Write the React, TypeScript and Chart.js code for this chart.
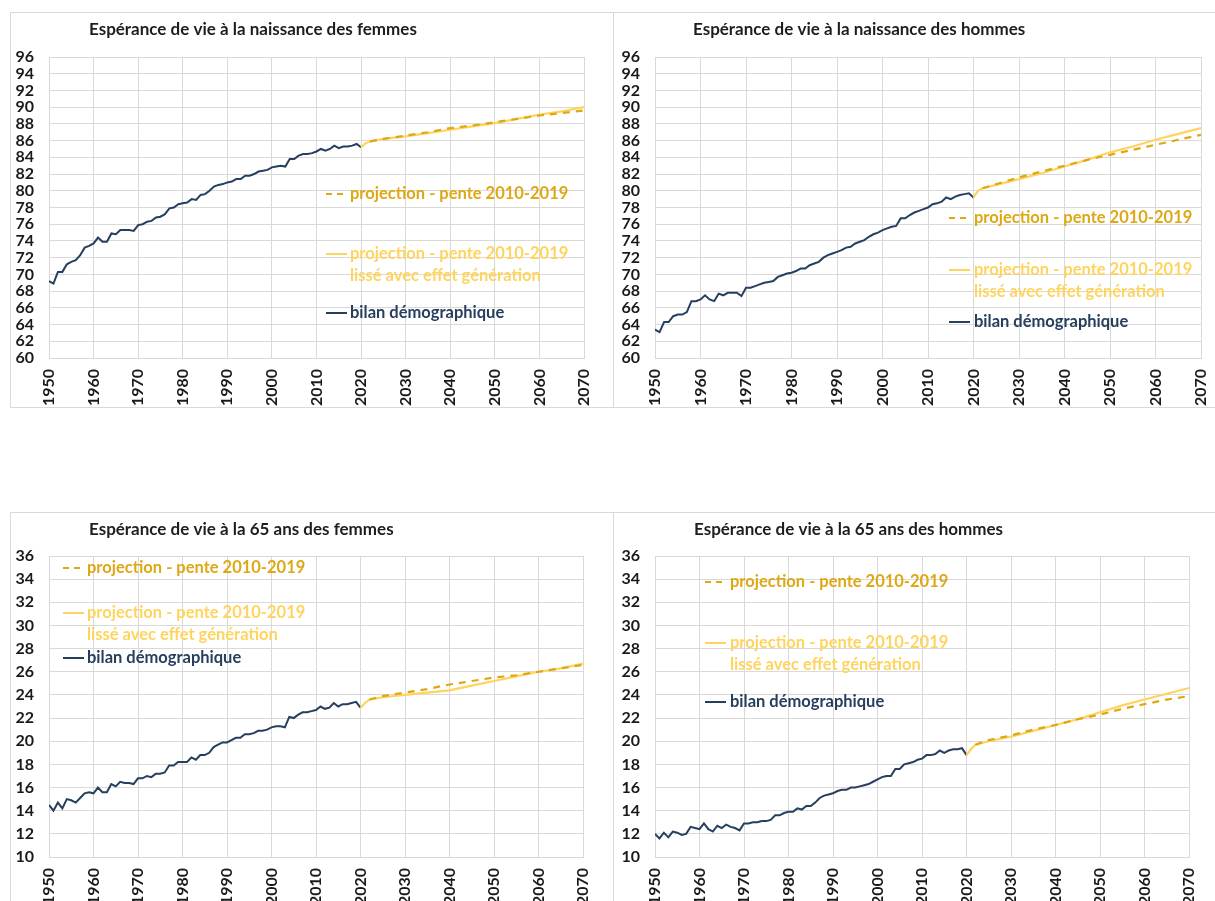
import React, { useEffect, useRef } from 'react';
import { Chart, registerables } from 'chart.js';
Chart.register(...registerables);

const years = [
  1950, 1951, 1952, 1953, 1954, 1955, 1956, 1957, 1958, 1959,
  1960, 1961, 1962, 1963, 1964, 1965, 1966, 1967, 1968, 1969,
  1970, 1971, 1972, 1973, 1974, 1975, 1976, 1977, 1978, 1979,
  1980, 1981, 1982, 1983, 1984, 1985, 1986, 1987, 1988, 1989,
  1990, 1991, 1992, 1993, 1994, 1995, 1996, 1997, 1998, 1999,
  2000, 2001, 2002, 2003, 2004, 2005, 2006, 2007, 2008, 2009,
  2010, 2011, 2012, 2013, 2014, 2015, 2016, 2017, 2018, 2019,
  2020,
];

const femmesNaissance = [
  69.2, 68.9, 70.3, 70.3, 71.2, 71.5, 71.7, 72.3, 73.2, 73.4,
  73.7, 74.4, 73.9, 73.9, 74.9, 74.8, 75.3, 75.3, 75.3, 75.2,
  75.9, 76.0, 76.3, 76.4, 76.8, 76.9, 77.2, 77.9, 78.0, 78.4,
  78.5, 78.6, 79.0, 78.9, 79.5, 79.6, 80.0, 80.5, 80.7, 80.8,
  81.0, 81.1, 81.4, 81.4, 81.8, 81.8, 82.0, 82.3, 82.4, 82.5,
  82.8, 82.9, 83.0, 82.9, 83.8, 83.8, 84.2, 84.4, 84.4, 84.5,
  84.7, 85.0, 84.8, 85.0, 85.4, 85.1, 85.3, 85.3, 85.4, 85.6,
  85.2,
];

const hommesNaissance = [
  63.4, 63.1, 64.3, 64.3, 65.0, 65.2, 65.2, 65.5, 66.8, 66.8,
  67.0, 67.5, 67.0, 66.8, 67.7, 67.5, 67.8, 67.8, 67.8, 67.4,
  68.4, 68.4, 68.6, 68.8, 69.0, 69.1, 69.2, 69.7, 69.9, 70.1,
  70.2, 70.4, 70.7, 70.7, 71.1, 71.3, 71.5, 72.0, 72.3, 72.5,
  72.7, 72.9, 73.2, 73.3, 73.7, 73.9, 74.1, 74.5, 74.8, 75.0,
  75.3, 75.5, 75.7, 75.8, 76.7, 76.7, 77.1, 77.4, 77.6, 77.8,
  78.0, 78.4, 78.5, 78.7, 79.2, 79.0, 79.3, 79.5, 79.6, 79.7,
  79.2,
];

const femmes65 = [
  14.5, 14.0, 14.7, 14.2, 15.0, 14.9, 14.7, 15.1, 15.5, 15.6,
  15.5, 16.0, 15.6, 15.6, 16.3, 16.1, 16.5, 16.4, 16.4, 16.3,
  16.8, 16.8, 17.0, 16.9, 17.2, 17.2, 17.3, 17.9, 17.9, 18.2,
  18.2, 18.2, 18.6, 18.4, 18.8, 18.8, 19.0, 19.5, 19.7, 19.9,
  19.9, 20.1, 20.3, 20.3, 20.6, 20.6, 20.7, 20.9, 20.9, 21.0,
  21.2, 21.3, 21.3, 21.2, 22.1, 22.0, 22.3, 22.5, 22.5, 22.6,
  22.7, 23.0, 22.8, 22.9, 23.3, 23.0, 23.2, 23.2, 23.3, 23.4,
  22.9,
];

const hommes65 = [
  12.0, 11.6, 12.1, 11.7, 12.2, 12.1, 11.9, 12.0, 12.6, 12.5,
  12.4, 12.9, 12.4, 12.2, 12.7, 12.5, 12.8, 12.6, 12.5, 12.3,
  12.9, 12.9, 13.0, 13.0, 13.1, 13.1, 13.2, 13.6, 13.6, 13.8,
  13.9, 13.9, 14.2, 14.1, 14.4, 14.4, 14.7, 15.1, 15.3, 15.4,
  15.5, 15.7, 15.8, 15.8, 16.0, 16.0, 16.1, 16.2, 16.3, 16.5,
  16.7, 16.9, 17.0, 17.0, 17.6, 17.6, 18.0, 18.1, 18.2, 18.4,
  18.5, 18.8, 18.8, 18.9, 19.2, 19.0, 19.2, 19.3, 19.3, 19.4,
  18.8,
];

// projection "pente 2010-2019 lissé avec effet génération" (solid)
const lisseYears = [2020, 2021, 2022, 2025, 2030, 2035, 2040, 2045, 2050, 2055, 2060, 2065, 2070];
const femmesNaissanceLisse = [85.2, 85.7, 85.9, 86.2, 86.5, 86.9, 87.3, 87.7, 88.1, 88.6, 89.1, 89.5, 90.0];
const hommesNaissanceLisse = [79.2, 80.0, 80.3, 80.7, 81.4, 82.1, 82.9, 83.7, 84.6, 85.3, 86.1, 86.8, 87.5];
const femmes65Lisse = [22.9, 23.3, 23.6, 23.8, 24.0, 24.2, 24.4, 24.8, 25.2, 25.6, 26.0, 26.3, 26.7];
const hommes65Lisse = [18.8, 19.3, 19.7, 20.0, 20.4, 20.9, 21.4, 21.9, 22.5, 23.1, 23.6, 24.1, 24.6];

// projection "pente 2010-2019" (dashed)
const penteYears = [2022, 2025, 2030, 2035, 2040, 2045, 2050, 2055, 2060, 2065, 2070];
const femmesNaissancePente = [85.9, 86.2, 86.6, 87.0, 87.5, 87.8, 88.2, 88.6, 89.0, 89.3, 89.6];
const hommesNaissancePente = [80.3, 80.8, 81.6, 82.3, 83.0, 83.7, 84.3, 84.9, 85.5, 86.1, 86.7];
const femmes65Pente = [23.6, 23.9, 24.2, 24.5, 24.9, 25.2, 25.5, 25.7, 26.0, 26.3, 26.6];
const hommes65Pente = [19.7, 20.1, 20.5, 21.0, 21.4, 21.9, 22.3, 22.8, 23.2, 23.6, 23.9];

const xTicks = [1950, 1960, 1970, 1980, 1990, 2000, 2010, 2020, 2030, 2040, 2050, 2060, 2070];
const yTicksNaissance = [60, 62, 64, 66, 68, 70, 72, 74, 76, 78, 80, 82, 84, 86, 88, 90, 92, 94, 96];
const yTicks65 = [10, 12, 14, 16, 18, 20, 22, 24, 26, 28, 30, 32, 34, 36];

const legendPente = 'projection - pente 2010-2019';
const legendLisse = ['projection - pente 2010-2019', 'lissé avec effet génération'];
const legendBilan = 'bilan démographique';

const NAVY = '#263f5f';
const GOLD_DARK = '#dea714';
const GOLD_LIGHT = '#ffd45e';
const GRID = '#d9d9d9';
const FONT = 'Lato, "Open Sans", sans-serif';

type PanelProps = {
  title: string;
  hist: number[];
  lisse: number[];
  pente: number[];
  yTicks: number[];
  box: { left: number; top: number; width: number; height: number; borderRight: boolean; borderBottom: boolean };
  canvasH: number;
  plot: { left: number; right: number; top: number; bottom: number };
  titlePos: { x: number; y: number };
  legend: { lineX: number; textX: number; yPente: number; yLisse: number; yBilan: number };
};

function pts(xs: number[], ys: number[]) {
  return xs.map((x, i) => ({ x, y: ys[i] }));
}

function Panel(p: PanelProps) {
  const ref = useRef<HTMLCanvasElement | null>(null);
  useEffect(() => {
    if (!ref.current) return;
    const cw = p.box.width - 2;
    const overlay = {
      id: 'overlay',
      afterDraw(chart: any) {
        const ctx = chart.ctx as CanvasRenderingContext2D;
        ctx.save();
        // title
        ctx.font = `bold 17px ${FONT}`;
        ctx.fillStyle = '#1e1e1e';
        ctx.textBaseline = 'middle';
        ctx.textAlign = 'left';
        ctx.fillText(p.title, p.titlePos.x, p.titlePos.y);
        // legend
        const L = p.legend;
        ctx.font = `bold 16.5px ${FONT}`;
        ctx.lineWidth = 2;
        // dashed
        ctx.strokeStyle = GOLD_DARK;
        ctx.setLineDash([6, 5]);
        ctx.beginPath();
        ctx.moveTo(L.lineX, L.yPente);
        ctx.lineTo(L.lineX + 20, L.yPente);
        ctx.stroke();
        ctx.setLineDash([]);
        ctx.fillStyle = GOLD_DARK;
        ctx.fillText(legendPente, L.textX, L.yPente);
        // solid light
        ctx.strokeStyle = GOLD_LIGHT;
        ctx.beginPath();
        ctx.moveTo(L.lineX, L.yLisse);
        ctx.lineTo(L.lineX + 21, L.yLisse);
        ctx.stroke();
        ctx.fillStyle = GOLD_LIGHT;
        ctx.fillText(legendLisse[0], L.textX, L.yLisse);
        ctx.fillText(legendLisse[1], L.textX, L.yLisse + 22);
        // bilan
        ctx.strokeStyle = NAVY;
        ctx.beginPath();
        ctx.moveTo(L.lineX, L.yBilan);
        ctx.lineTo(L.lineX + 21, L.yBilan);
        ctx.stroke();
        ctx.fillStyle = NAVY;
        ctx.fillText(legendBilan, L.textX, L.yBilan);
        ctx.restore();
      },
    };
    const chart = new Chart(ref.current, {
      type: 'line',
      data: {
        datasets: [
          {
            label: legendPente,
            data: pts(penteYears, p.pente),
            borderColor: GOLD_DARK,
            borderWidth: 2.2,
            borderDash: [7, 6],
            pointRadius: 0,
            fill: false,
          },
          {
            label: legendLisse.join(' '),
            data: pts(lisseYears, p.lisse),
            borderColor: GOLD_LIGHT,
            borderWidth: 2.2,
            pointRadius: 0,
            fill: false,
          },
          {
            label: legendBilan,
            data: pts(years, p.hist),
            borderColor: NAVY,
            borderWidth: 2,
            pointRadius: 0,
            fill: false,
          },
        ],
      },
      options: {
        animation: false,
        responsive: false,
        maintainAspectRatio: false,
        events: [],
        layout: {
          padding: { left: 0, top: p.plot.top, right: cw - p.plot.right, bottom: 0 },
        },
        plugins: {
          legend: { display: false },
          title: { display: false },
          tooltip: { enabled: false },
        },
        scales: {
          x: {
            type: 'linear',
            min: 1950,
            max: 2070,
            afterBuildTicks: (s: any) => {
              s.ticks = xTicks.map((v) => ({ value: v }));
            },
            afterFit: (s: any) => {
              s.height = p.canvasH - p.plot.bottom;
              s.paddingLeft = 0;
              s.paddingRight = 0;
            },
            grid: { color: GRID, lineWidth: 1, drawTicks: false },
            border: { display: true, color: GRID, width: 1 },
            ticks: {
              autoSkip: false,
              minRotation: 90,
              maxRotation: 90,
              padding: 11,
              color: '#1a1a1a',
              font: { family: FONT, size: 16, weight: 'bold' },
              callback: (v: any) => String(v),
            },
          },
          y: {
            type: 'linear',
            min: p.yTicks[0],
            max: p.yTicks[p.yTicks.length - 1],
            afterBuildTicks: (s: any) => {
              s.ticks = p.yTicks.map((v) => ({ value: v }));
            },
            afterFit: (s: any) => {
              s.width = p.plot.left;
              s.paddingTop = 0;
              s.paddingBottom = 0;
            },
            grid: { color: GRID, lineWidth: 1, drawTicks: false },
            border: { display: true, color: GRID, width: 1 },
            ticks: {
              autoSkip: false,
              padding: 15,
              color: '#1a1a1a',
              font: { family: FONT, size: 16, weight: 'bold' },
              callback: (v: any) => String(v),
            },
          },
        },
      } as any,
      plugins: [overlay],
    });
    return () => chart.destroy();
  }, []);

  const b = p.box;
  return (
    <div
      style={{
        position: 'absolute',
        left: b.left,
        top: b.top,
        width: b.width,
        height: b.height,
        boxSizing: 'border-box',
        borderTop: `1px solid ${GRID}`,
        borderLeft: `1px solid ${GRID}`,
        borderRight: b.borderRight ? `1px solid ${GRID}` : 'none',
        borderBottom: b.borderBottom ? `1px solid ${GRID}` : 'none',
        overflow: 'hidden',
        background: '#fff',
      }}
    >
      <canvas ref={ref} width={b.width - 2} height={p.canvasH} style={{ display: 'block' }} />
    </div>
  );
}

export default function App() {
  useEffect(() => {
    document.body.style.overflow = 'hidden';
    document.body.style.background = '#fff';
  }, []);
  return (
    <div>
      <Panel
        title="Espérance de vie à la naissance des femmes"
        hist={femmesNaissance}
        lisse={femmesNaissanceLisse}
        pente={femmesNaissancePente}
        yTicks={yTicksNaissance}
        box={{ left: 10, top: 12, width: 604, height: 396, borderRight: true, borderBottom: true }}
        canvasH={393}
        plot={{ left: 38, right: 573, top: 44, bottom: 345 }}
        titlePos={{ x: 78, y: 17 }}
        legend={{ lineX: 315, textX: 339, yPente: 181, yLisse: 241, yBilan: 300 }}
      />
      <Panel
        title="Espérance de vie à la naissance des hommes"
        hist={hommesNaissance}
        lisse={hommesNaissanceLisse}
        pente={hommesNaissancePente}
        yTicks={yTicksNaissance}
        box={{ left: 613, top: 12, width: 602, height: 396, borderRight: false, borderBottom: true }}
        canvasH={393}
        plot={{ left: 41, right: 587, top: 44, bottom: 345 }}
        titlePos={{ x: 79, y: 17 }}
        legend={{ lineX: 335, textX: 360, yPente: 205, yLisse: 257, yBilan: 309 }}
      />
      <Panel
        title="Espérance de vie à la 65 ans des femmes"
        hist={femmes65}
        lisse={femmes65Lisse}
        pente={femmes65Pente}
        yTicks={yTicks65}
        box={{ left: 10, top: 512, width: 604, height: 389, borderRight: true, borderBottom: false }}
        canvasH={393}
        plot={{ left: 38, right: 572, top: 43, bottom: 344 }}
        titlePos={{ x: 78, y: 17 }}
        legend={{ lineX: 52, textX: 76, yPente: 55, yLisse: 100, yBilan: 145 }}
      />
      <Panel
        title="Espérance de vie à la 65 ans des hommes"
        hist={hommes65}
        lisse={hommes65Lisse}
        pente={hommes65Pente}
        yTicks={yTicks65}
        box={{ left: 613, top: 512, width: 602, height: 389, borderRight: false, borderBottom: false }}
        canvasH={393}
        plot={{ left: 41, right: 575, top: 43, bottom: 344 }}
        titlePos={{ x: 80, y: 17 }}
        legend={{ lineX: 91, textX: 116, yPente: 69, yLisse: 130, yBilan: 189 }}
      />
    </div>
  );
}
